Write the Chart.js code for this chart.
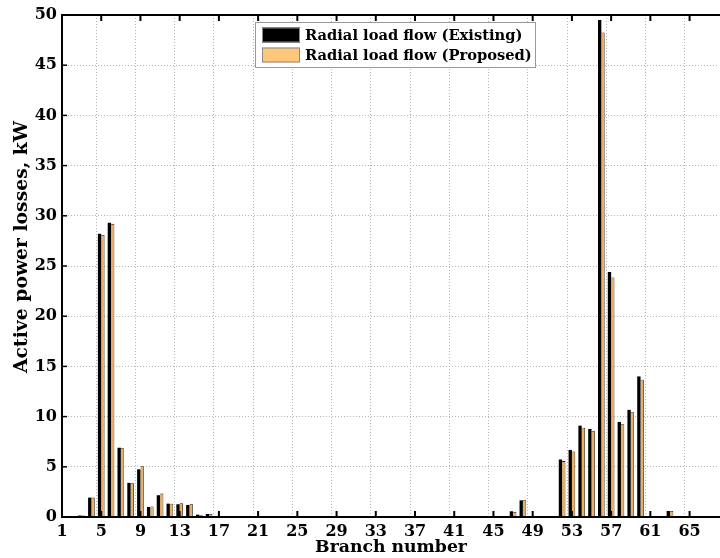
<!DOCTYPE html>
<html>
<head>
<meta charset="utf-8">
<script src="https://cdn.jsdelivr.net/npm/chart.js@4"></script>
<style>
  html, body { margin: 0; padding: 0; background: #fff; overflow: hidden; }
  #wrap { position: relative; width: 724px; height: 558px; }
</style>
</head>
<body>
<div id="wrap"><canvas id="grafico_perdas"></canvas></div>
<script>
// branch numbers 1..68 (69-bus radial feeder)
const branches = [
  1, 2, 3, 4, 5, 6, 7, 8, 9, 10, 11, 12, 13, 14, 15, 16, 17,
  18, 19, 20, 21, 22, 23, 24, 25, 26, 27, 28, 29, 30, 31, 32, 33, 34,
  35, 36, 37, 38, 39, 40, 41, 42, 43, 44, 45, 46, 47, 48, 49, 50, 51,
  52, 53, 54, 55, 56, 57, 58, 59, 60, 61, 62, 63, 64, 65, 66, 67, 68
];

// active power losses, kW
const perdas_existente = [
  0.05, 0.05, 0.15, 1.93, 28.2, 29.3, 6.9, 3.4, 4.75, 1.0, 2.17, 1.33, 1.27, 1.2, 0.23, 0.3, 0.05,
  0.08, 0, 0.08, 0, 0, 0, 0, 0, 0, 0, 0, 0, 0, 0, 0, 0, 0,
  0, 0, 0, 0, 0, 0, 0, 0, 0, 0, 0, 0, 0.57, 1.66, 0.05, 0, 0,
  5.73, 6.68, 9.1, 8.77, 49.5, 24.4, 9.47, 10.67, 14.0, 0.1, 0.05, 0.6, 0, 0, 0, 0, 0
];

const perdas_proposto = [
  0.05, 0.05, 0.15, 1.93, 28.1, 29.2, 6.85, 3.35, 5.05, 1.05, 2.33, 1.33, 1.37, 1.3, 0.23, 0.3, 0.05,
  0.08, 0, 0.08, 0, 0, 0, 0, 0, 0, 0, 0, 0, 0, 0, 0, 0, 0,
  0, 0, 0, 0, 0, 0, 0, 0, 0, 0, 0, 0, 0.5, 1.66, 0.05, 0, 0,
  5.57, 6.52, 8.9, 8.57, 48.25, 23.85, 9.23, 10.43, 13.67, 0.1, 0.05, 0.6, 0, 0, 0, 0, 0
];

const legenda = ['Radial load flow (Existing)', 'Radial load flow (Proposed)'];
const titulo_x = 'Branch number';
const titulo_y = 'Active power losses, kW';

const preto = '#000000';
const laranja = '#FFC77A';
const laranja_barra = '#EBAE66';
const fonte = 'DejaVu Serif';

// fit a bold text to a given width
function ajustar(ctx, txt, largura) {
  ctx.font = 'bold 20px "' + fonte + '"';
  const w = ctx.measureText(txt).width;
  const tamanho = 20 * largura / w;
  ctx.font = 'bold ' + tamanho.toFixed(2) + 'px "' + fonte + '"';
}

// frame, inward ticks, axis titles and boxed legend (MATLAB look)
const moldura = {
  id: 'moldura',
  afterDraw(chart) {
    const ctx = chart.ctx;
    const area = chart.chartArea;
    const x = chart.scales.x;
    const y = chart.scales.y;
    ctx.save();
    ctx.strokeStyle = '#000';

    // tick marks
    ctx.lineWidth = 2;
    x.ticks.forEach((t, i) => {
      if (i % 4 !== 0) return;
      const px = x.getPixelForTick(i);
      ctx.beginPath();
      ctx.moveTo(px, area.bottom); ctx.lineTo(px, area.bottom - 6);
      ctx.moveTo(px, area.top); ctx.lineTo(px, area.top + 6);
      ctx.stroke();
    });
    ctx.lineWidth = 1.5;
    y.ticks.forEach((t, i) => {
      const py = y.getPixelForTick(i);
      ctx.beginPath();
      ctx.moveTo(area.left, py); ctx.lineTo(area.left + 5, py);
      ctx.stroke();
    });

    // frame
    ctx.lineWidth = 2;
    ctx.beginPath();
    ctx.moveTo(area.right + 2, area.top);
    ctx.lineTo(area.left, area.top);
    ctx.lineTo(area.left, area.bottom);
    ctx.lineTo(area.right + 2, area.bottom);
    ctx.stroke();

    // axis titles
    ctx.fillStyle = '#000';
    ctx.textAlign = 'center';
    ctx.textBaseline = 'middle';
    ajustar(ctx, titulo_x, 152);
    ctx.fillText(titulo_x, 391, 548);
    ctx.save();
    ctx.translate(22, 247);
    ctx.rotate(-Math.PI / 2);
    ajustar(ctx, titulo_y, 252);
    ctx.fillText(titulo_y, 0, 0);
    ctx.restore();

    // legend
    const lx = 255, ly = 22, lw = 280, lh = 45;
    ctx.fillStyle = '#fff';
    ctx.fillRect(lx, ly, lw, lh);
    ctx.strokeStyle = '#999';
    ctx.lineWidth = 1;
    ctx.strokeRect(lx + 0.5, ly + 0.5, lw, lh);
    const cores = [preto, laranja];
    ajustar(ctx, legenda[1], 227);
    legenda.forEach((txt, i) => {
      const cy = 35 + i * 20;
      ctx.fillStyle = cores[i];
      ctx.fillRect(262, cy - 7.5, 38, 15);
      ctx.strokeStyle = '#888';
      ctx.strokeRect(262.5, cy - 7, 37, 14);
      ctx.fillStyle = '#000';
      ctx.textBaseline = 'middle';
      ctx.textAlign = 'left';
      ctx.fillText(txt, 305, cy + 1);
    });
    ctx.restore();
  }
};

Chart.defaults.font.family = fonte;
Chart.defaults.font.weight = 'bold';
Chart.defaults.font.size = 16;
Chart.defaults.color = '#000';

const ctx1 = document.getElementById('grafico_perdas');

new Chart(ctx1, {
  type: 'bar',
  data: {
    labels: branches,
    datasets: [{
      label: legenda[0],
      data: perdas_existente,
      backgroundColor: preto,
      borderColor: preto,
      borderWidth: 0,
      categoryPercentage: 0.68,
      barPercentage: 1.0
    }, {
      label: legenda[1],
      data: perdas_proposto,
      backgroundColor: laranja_barra,
      borderColor: '#2a1a05',
      borderWidth: { left: 0, right: 0.8, top: 0.8, bottom: 0 },
      categoryPercentage: 0.68,
      barPercentage: 1.0
    }]
  },
  options: {
    responsive: true,
    maintainAspectRatio: false,
    animation: false,
    layout: { padding: { left: 0, right: 0, top: 15, bottom: 0 } },
    scales: {
      x: {
        offset: false,
        border: { display: false, dash: [1, 2] },
        grid: {
          drawTicks: false,
          lineWidth: 1,
          color: c => (c.index % 4 === 0 ? '#b5b5b5' : 'rgba(0,0,0,0)')
        },
        ticks: {
          autoSkip: false,
          maxRotation: 0,
          padding: 5,
          callback: function (value, index) {
            return index % 4 === 0 ? this.getLabelForValue(value) : '';
          }
        },
        afterFit: s => { s.height = 41; }
      },
      y: {
        min: 0,
        max: 50,
        border: { display: false, dash: [1, 2] },
        grid: { drawTicks: false, color: '#b5b5b5', lineWidth: 1 },
        ticks: { stepSize: 5, padding: 5 },
        afterFit: s => { s.width = 62; }
      }
    },
    plugins: {
      legend: { display: false },
      tooltip: { enabled: false }
    }
  },
  plugins: [moldura]
});
</script>
</body>
</html>
